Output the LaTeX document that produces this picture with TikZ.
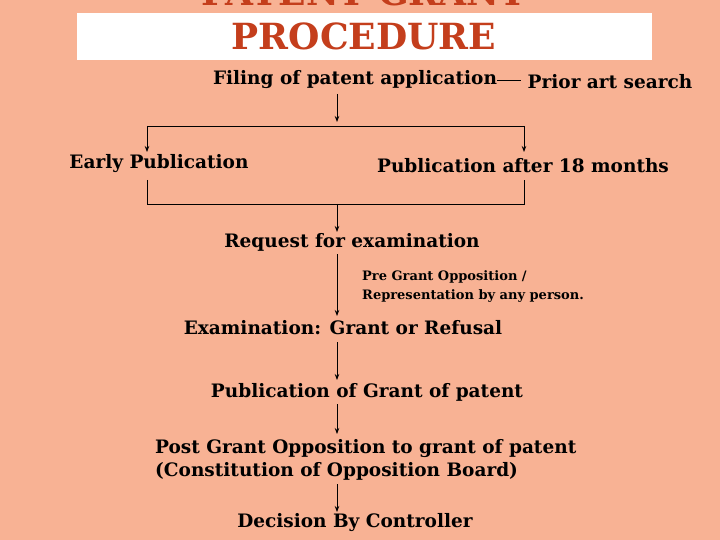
\documentclass[tikz,border=0pt]{standalone}
\usepackage{fontspec}
\setmainfont{DejaVu Serif}
\usetikzlibrary{arrows.meta}
\definecolor{bg}{RGB}{248,178,148}
\definecolor{tred}{RGB}{196,62,28}
\begin{document}
\begin{tikzpicture}[x=1pt,y=-1pt,
  lbl/.style={font=\bfseries\fontsize{18.5}{23}\selectfont, inner sep=0pt},
  sml/.style={font=\bfseries\fontsize{13}{19}\selectfont, inner sep=0pt, align=left},
  ln/.style={line width=0.8pt},
  ar/.style={ln,-{Stealth[length=6pt,width=4.5pt]}}]
\fill[bg] (0,0) rectangle (720,540);
\useasboundingbox (0,0) rectangle (720,540);
\fill[white] (77,13) rectangle (652,60);
\begin{scope}
\clip (0,0) rectangle (720,540);
\node[text=tred,font=\bfseries\fontsize{36}{38}\selectfont] (t1) at (364,-8) {PATENT GRANT};
\end{scope}
\node[text=tred,font=\bfseries\fontsize{36}{38}\selectfont] (t2) at (364,36) {PROCEDURE};
\node[lbl] (fil) at (355,80) {Filing of patent application};
\node[lbl] (pri) at (610,82) {Prior art search};
\coordinate (c1) at (497,80); \coordinate (c2) at (521,80);
\draw[ln] (c1) -- (c2);
\coordinate (a1) at (337,94); \coordinate (a2) at (337,122);
\draw[ar] (a1) -- (a2);
\node[lbl] (ear) at (159,164) {Early Publication};
\node[lbl] (p18) at (523,166) {Publication after 18 months};
\coordinate (hl) at (147,126); \coordinate (hr) at (524,126);
\draw[ln] (hl) -- (hr);
\draw[ar] (hl) -- (147,152);
\draw[ar] (hr) -- (524,152);
\draw[ln] (147,180) -- (147,204) -- (524,204) -- (524,180);
\node[lbl] (req) at (352,242) {Request for examination};
\draw[ar] (337,204) -- (337,232);
\node[sml,anchor=north west] (pre) at (362,270) {Pre Grant Opposition /\\Representation by any person.};
\node[lbl] (exa) at (343,328) {Examination: Grant or Refusal};
\draw[ar] (337,254) -- (337,316);
\node[lbl] (pub) at (367,392) {Publication of Grant of patent};
\draw[ar] (337,342) -- (337,380);
\node[lbl,anchor=west,align=left] (pos) at (155,460) {Post Grant Opposition to grant of patent\\(Constitution of Opposition Board)};
\draw[ar] (337,404) -- (337,434);
\node[lbl] (dec) at (355,523) {Decision By Controller};
\draw[ar] (337,484) -- (337,512);
\end{tikzpicture}
\end{document}
